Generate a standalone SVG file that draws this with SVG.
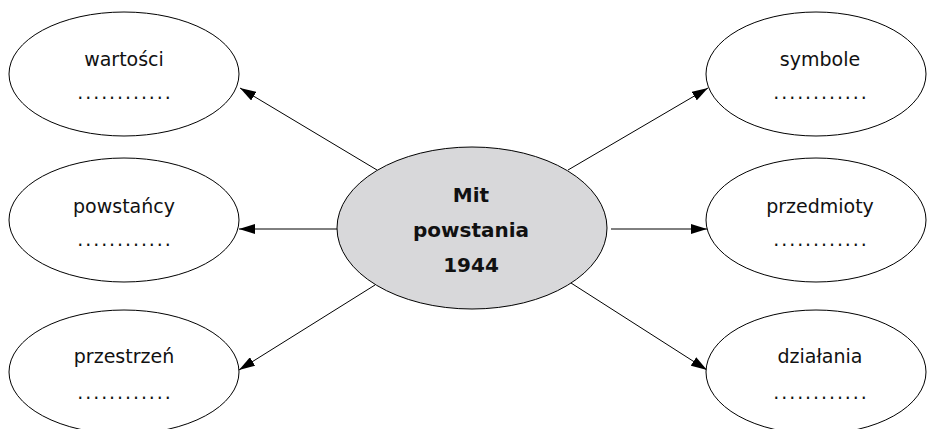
<svg xmlns="http://www.w3.org/2000/svg" width="928" height="429" viewBox="0 0 928 429">
<style>
.node{fill:#fff;stroke:#000;stroke-width:1}
.center{fill:#d8d8da;stroke:#000;stroke-width:1}
.lbl{font-family:"DejaVu Sans",sans-serif;font-size:19px;fill:#111;text-anchor:middle}
.dots{font-family:"DejaVu Sans",sans-serif;font-size:19px;fill:#111;text-anchor:middle;letter-spacing:1.9px}
.ctr{font-family:"DejaVu Sans",sans-serif;font-weight:bold;font-size:20px;fill:#111;text-anchor:middle}
.edge{stroke:#000;stroke-width:1;fill:none;marker-end:url(#arr)}
</style>
<defs>
<marker id="arr" viewBox="0 0 16 10" refX="16" refY="5" markerWidth="16" markerHeight="10" markerUnits="userSpaceOnUse" orient="auto">
<path d="M0,0 L16,5 L0,10 Z" fill="#000"/>
</marker>
</defs>
<rect width="928" height="429" fill="#fff"/>
<g id="connectors">
<line class="edge" x1="377" y1="170" x2="240" y2="88"/>
<line class="edge" x1="337" y1="229" x2="239" y2="229"/>
<line class="edge" x1="375" y1="285" x2="239" y2="370"/>
<line class="edge" x1="568" y1="170" x2="708" y2="88"/>
<line class="edge" x1="611" y1="229" x2="707" y2="229"/>
<line class="edge" x1="571" y1="283" x2="707" y2="370"/>
</g>
<g id="center">
<ellipse class="center" cx="472" cy="228" rx="135" ry="81"/>
<text class="ctr" x="471" y="202">Mit</text>
<text class="ctr" x="471" y="237">powstania</text>
<text class="ctr" x="471" y="272">1944</text>
</g>
<g id="wartosci">
<ellipse class="node" cx="124" cy="74" rx="115" ry="62"/>
<text class="lbl" x="124" y="66">wartości</text>
<text class="dots" x="125" y="99">............</text>
</g>
<g id="powstancy">
<ellipse class="node" cx="124" cy="220" rx="115" ry="62"/>
<text class="lbl" x="124" y="213">powstańcy</text>
<text class="dots" x="125" y="246">............</text>
</g>
<g id="przestrzen">
<ellipse class="node" cx="124" cy="372" rx="115" ry="62"/>
<text class="lbl" x="124" y="363">przestrzeń</text>
<text class="dots" x="125" y="399">............</text>
</g>
<g id="symbole">
<ellipse class="node" cx="816" cy="74" rx="110" ry="62"/>
<text class="lbl" x="820" y="66">symbole</text>
<text class="dots" x="821" y="99">............</text>
</g>
<g id="przedmioty">
<ellipse class="node" cx="816" cy="220" rx="110" ry="62"/>
<text class="lbl" x="820" y="213">przedmioty</text>
<text class="dots" x="821" y="246">............</text>
</g>
<g id="dzialania">
<ellipse class="node" cx="816" cy="372" rx="110" ry="62"/>
<text class="lbl" x="820" y="363">działania</text>
<text class="dots" x="821" y="399">............</text>
</g>
</svg>
